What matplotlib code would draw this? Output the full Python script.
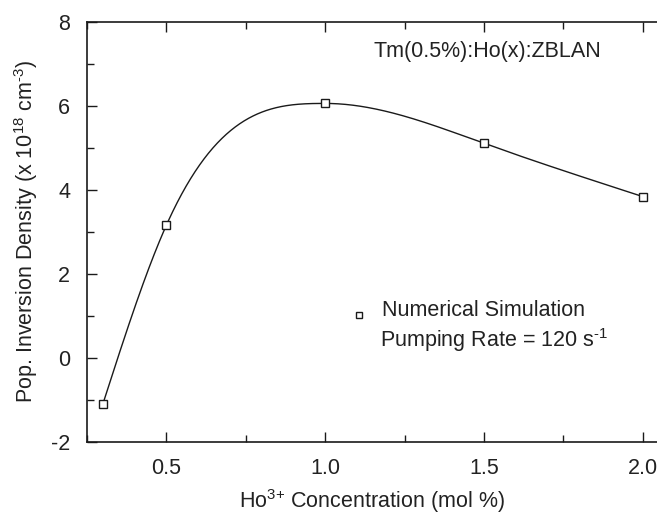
import numpy as np
import matplotlib
matplotlib.use("Agg")
import matplotlib.pyplot as plt
from matplotlib.ticker import MultipleLocator

plt.rcParams['font.family'] = ['Liberation Sans', 'DejaVu Sans']
plt.rcParams['mathtext.fontset'] = 'custom'
plt.rcParams['mathtext.rm'] = 'Liberation Sans'
plt.rcParams['axes.unicode_minus'] = False

conc = [0.3, 0.5, 1.0, 1.5, 2.0]
inversion = [-1.10, 3.16, 6.06, 5.11, 3.84]


def cubic_spline(x, y, xs, d_left=None, d_right=None):
    """Cubic spline; natural end unless an end derivative is given."""
    x = np.asarray(x, float); y = np.asarray(y, float)
    n = len(x)
    h = np.diff(x)
    A = np.zeros((n, n)); b = np.zeros(n)
    if d_left is None:
        A[0, 0] = 1
    else:
        A[0, 0] = 2 * h[0]; A[0, 1] = h[0]
        b[0] = 3 * ((y[1] - y[0]) / h[0] - d_left)
    if d_right is None:
        A[-1, -1] = 1
    else:
        A[-1, -2] = h[-1]; A[-1, -1] = 2 * h[-1]
        b[-1] = 3 * (d_right - (y[-1] - y[-2]) / h[-1])
    for i in range(1, n - 1):
        A[i, i - 1] = h[i - 1]
        A[i, i] = 2 * (h[i - 1] + h[i])
        A[i, i + 1] = h[i]
        b[i] = 3 * ((y[i + 1] - y[i]) / h[i] - (y[i] - y[i - 1]) / h[i - 1])
    c = np.linalg.solve(A, b)
    out = np.empty_like(xs)
    for k, xv in enumerate(xs):
        i = min(max(np.searchsorted(x, xv) - 1, 0), n - 2)
        dx = xv - x[i]
        bi = (y[i + 1] - y[i]) / h[i] - h[i] * (2 * c[i] + c[i + 1]) / 3
        di = (c[i + 1] - c[i]) / (3 * h[i])
        out[k] = y[i] + bi * dx + c[i] * dx ** 2 + di * dx ** 3
    return out


fig = plt.figure(figsize=(6.57, 5.15), dpi=100)
ax = fig.add_axes([87 / 657, 1 - 441.7 / 515, (1.04 * 657 - 87) / 657, (441.7 - 22) / 515])

# smooth curve, flat at the maximum data point
imax = int(np.argmax(inversion))
xl = np.linspace(conc[0], conc[imax], 300)
xr = np.linspace(conc[imax], conc[-1], 300)
yl = cubic_spline(conc[:imax + 1], inversion[:imax + 1], xl, d_right=0.0)
yr = cubic_spline(conc[imax:], inversion[imax:], xr, d_left=0.0)
ax.plot(np.r_[xl, xr], np.r_[yl, yr], color='#1a1a1a', lw=1.0)
ax.plot(conc, inversion, ls='none', marker='s', ms=6, mfc='white', mec='#1a1a1a', mew=1.0)

ax.set_xlim(0.25, 2.0 + (0.25 / 79) * (1.04 * 657 - 643))
ax.set_ylim(-2, 8)
ax.xaxis.set_minor_locator(MultipleLocator(0.25))
ax.yaxis.set_major_locator(MultipleLocator(2))
ax.yaxis.set_minor_locator(MultipleLocator(1))
ax.set_xticks([0.5, 1.0, 1.5, 2.0])
ax.set_xticklabels(['0.5', '1.0', '1.5', '2.0'])
ax.tick_params(which='both', direction='in', top=True, right=False, color='#1a1a1a', width=1.0,
               labelsize=15.5, labelcolor='#222222')
ax.tick_params(which='major', length=7)
ax.tick_params(which='minor', length=5)
ax.tick_params(axis='x', pad=12)
ax.tick_params(axis='y', pad=12)
ax.spines['right'].set_visible(False)
for s in ['left', 'bottom', 'top']:
    ax.spines[s].set_color('#1a1a1a')
    ax.spines[s].set_linewidth(1.2)

ax.set_xlabel(r'Ho$^{\text{3+}}$ Concentration (mol %)', fontsize=15.5, color='#222222', labelpad=5.5)
ax.xaxis.label.set_x(0.478)
ax.set_ylabel(r'Pop. Inversion Density (x 10$^{\text{18}}$ cm$^{\text{-3}}$)', fontsize=15.5,
              color='#222222', labelpad=8)

ax.text(374 / 657, 1 - 52 / 515, 'Tm(0.5%):Ho(x):ZBLAN', transform=fig.transFigure,
        fontsize=15.5, color='#222222', va='center', ha='left')
fig.lines.append(plt.Line2D([359 / 657], [1 - 315 / 515], transform=fig.transFigure,
                            marker='s', ms=5, mfc='white', mec='#1a1a1a', mew=1.0, ls='none'))
ax.text(382 / 657, 1 - 311 / 515, 'Numerical Simulation', transform=fig.transFigure,
        fontsize=15.5, color='#222222', va='center', ha='left')
ax.text(380 / 657, 1 - 340 / 515, r'Pumping Rate = 120 s$^{\text{-1}}$', transform=fig.transFigure,
        fontsize=15.5, color='#222222', va='center', ha='left')

fig.savefig('out.png', dpi=100)
